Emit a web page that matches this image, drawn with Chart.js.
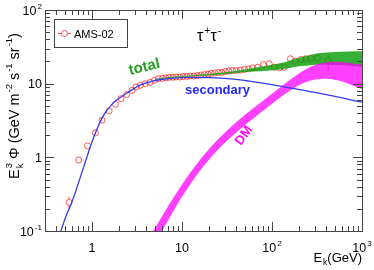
<!DOCTYPE html>
<html>
<head>
<meta charset="utf-8">
<script src="https://cdn.jsdelivr.net/npm/chart.js@4.4.1/dist/chart.umd.min.js"></script>
<style>
  html, body { margin: 0; padding: 0; background: #fff; }
  #chart { display: block; }
</style>
</head>
<body>
<canvas id="chart" width="374" height="270"></canvas>
<script>
// AMS-02 data points (E in GeV, E^3 flux)
const amsE = [0.555, 0.71, 0.89, 1.09, 1.29, 1.55, 1.82, 2.10, 2.42, 2.78, 3.08, 3.44, 3.91, 4.41, 4.93, 5.45,
  6.04, 6.6, 7.2, 7.9, 8.6, 9.45, 10.3, 11.3, 12.3, 13.5, 14.8, 16.2, 17.7, 19.4, 21.1, 23.1, 25.3, 27.7,
  30.3, 33.1, 36.2, 40.0, 44.5, 49.4, 54.8, 60.8, 69, 80, 93, 106, 121, 137, 160, 181, 210, 238, 271, 320, 420];
const amsFlux = [0.244, 0.92, 1.43, 2.15, 3.19, 4.26, 5.25, 6.27, 7.1, 8.1, 9.0, 9.5, 10.0, 10.4, 11.1, 11.7,
  11.8, 12.0, 12.2, 12.2, 12.3, 12.3, 12.5, 12.5, 12.7, 12.7, 12.9, 13.1, 13.3, 13.5, 13.8, 14.0, 14.2, 14.2,
  14.6, 14.9, 15.1, 15.1, 15.3, 15.6, 15.9, 16.4, 16.7, 18.2, 18.6, 16.7, 16.4, 16.7, 21.8, 20.2, 21.3, 21.8, 22.2, 22.4, 20.6];
const amsErr = [0.05, 0.03, 0.04, 0.05, 0.07, 0.08, 0.1, 0.1, 0.1, 0.12, 0.13, 0.13, 0.14, 0.14, 0.15, 0.15,
  0.15, 0.15, 0.15, 0.15, 0.15, 0.15, 0.15, 0.15, 0.16, 0.16, 0.17, 0.17, 0.18, 0.18, 0.2, 0.2, 0.2, 0.2,
  0.25, 0.25, 0.3, 0.3, 0.3, 0.35, 0.4, 0.45, 0.5, 0.6, 0.7, 0.8, 0.9, 1.0, 1.5, 1.5, 1.8, 2.0, 2.3, 3.0, 5.5];

// secondary background
const secE = [0.45, 0.505, 0.61, 0.786, 1.015, 1.31, 1.69, 2.38, 3.36, 4.7, 5.6, 8, 12, 20, 35, 56, 100, 140, 300, 600, 1000];
const secFlux = [0.1, 0.15, 0.265, 0.67, 1.71, 3.54, 5.36, 7.3, 9.5, 10.8, 11.3, 11.9, 12.2, 12.1, 11.6, 10.8, 9.7, 9.0, 7.6, 6.4, 5.6];

// total band
const totE = [5, 7, 10, 15, 20, 30, 50, 80, 130, 200, 270, 340, 500, 700, 1000];
const totLow = [11.2, 11.9, 12.3, 12.7, 13.0, 13.5, 14.4, 14.9, 15.7, 17.2, 17.8, 18.0, 17.9, 17.5, 17.0];
const totHigh = [11.6, 12.3, 12.7, 13.2, 13.6, 14.3, 15.6, 17.2, 19.2, 22.5, 24.5, 26.0, 27.0, 27.4, 27.6];

// DM band
const dmE = [4, 4.8, 7, 10, 15, 25, 40, 60, 100, 150, 220, 300, 400, 550, 750, 1000];
const dmLow = [0.039, 0.0605, 0.140, 0.292, 0.605, 1.27, 2.18, 3.27, 5.32, 7.72, 10.1, 11.4, 11.7, 11.0, 9.7, 8.4];
const dmHigh = [0.068, 0.1, 0.217, 0.427, 0.849, 1.74, 2.99, 4.48, 7.28, 10.7, 14.8, 17.9, 19.5, 19.8, 19.1, 18.0];

// axis ticks
const xMajor = [1, 10, 100, 1000];
const xLabels = [['1'], ['10'], ['10', '2'], ['10', '3']];
const yMajor = [0.1, 1, 10, 100];
const yLabels = [['10', '-1'], ['1'], ['10'], ['10', '2']];

const FONT = '"Liberation Sans", Arial, Helvetica, sans-serif';
const AMS_COLOR = 'rgba(255,0,0,0.65)';
const pts = (xs, ys) => xs.map((x, i) => ({ x: x, y: ys[i] }));

function minorTicks(min, max) {
  const out = [];
  for (let d = Math.pow(10, Math.floor(Math.log10(min))); d < max; d *= 10) {
    for (let m = 2; m < 10; m++) {
      const v = m * d;
      if (v > min * 1.0001 && v < max * 0.9999) out.push(v);
    }
  }
  return out;
}

// draws text made of parts {t, sup, sub}; returns width
function rich(ctx, parts, x, y, size, draw) {
  let cx = x;
  const small = size * 0.65;
  parts.forEach(p => {
    ctx.font = size + 'px ' + FONT;
    if (draw) ctx.fillText(p.t, cx, y);
    cx += ctx.measureText(p.t).width;
    let w = 0;
    ctx.font = small + 'px ' + FONT;
    if (p.sup) {
      if (draw) ctx.fillText(p.sup, cx + 1, y - size * 0.45);
      w = Math.max(w, ctx.measureText(p.sup).width + 1);
    }
    if (p.sub) {
      if (draw) ctx.fillText(p.sub, cx + 1, y + size * 0.25);
      w = Math.max(w, ctx.measureText(p.sub).width + 1);
    }
    cx += w;
  });
  return cx - x;
}

const framePlugin = {
  id: 'frame',
  afterDatasetDraw(chart, args) {
    if (args.index !== 0) return;
    // error bars for AMS points
    const ctx = chart.ctx, xs = chart.scales.x, ys = chart.scales.y, a = chart.chartArea;
    ctx.save();
    ctx.beginPath();
    ctx.rect(a.left, a.top, a.right - a.left, a.bottom - a.top);
    ctx.clip();
    ctx.strokeStyle = AMS_COLOR;
    ctx.lineWidth = 1;
    amsE.forEach((e, i) => {
      const px = xs.getPixelForValue(e);
      const py = ys.getPixelForValue(amsFlux[i]);
      const hi = ys.getPixelForValue(amsFlux[i] + amsErr[i]);
      const lo = ys.getPixelForValue(amsFlux[i] - amsErr[i]);
      ctx.beginPath();
      if (hi < py - 3) { ctx.moveTo(px, hi); ctx.lineTo(px, py - 3); }
      if (lo > py + 3) { ctx.moveTo(px, py + 3); ctx.lineTo(px, lo); }
      ctx.stroke();
    });
    ctx.restore();
  },
  afterDraw(chart) {
    const ctx = chart.ctx, xs = chart.scales.x, ys = chart.scales.y, a = chart.chartArea;
    ctx.save();
    ctx.strokeStyle = '#444';
    ctx.lineWidth = 1;
    ctx.strokeRect(Math.round(a.left) + 0.5, Math.round(a.top) + 0.5,
      Math.round(a.right - a.left), Math.round(a.bottom - a.top));

    ctx.beginPath();
    const xTick = (v, len) => {
      const px = Math.round(xs.getPixelForValue(v)) + 0.5;
      ctx.moveTo(px, a.bottom); ctx.lineTo(px, a.bottom - len);
      ctx.moveTo(px, a.top); ctx.lineTo(px, a.top + len);
    };
    const yTick = (v, len) => {
      const py = Math.round(ys.getPixelForValue(v)) + 0.5;
      ctx.moveTo(a.left, py); ctx.lineTo(a.left + len, py);
      ctx.moveTo(a.right, py); ctx.lineTo(a.right - len, py);
    };
    xMajor.forEach(v => xTick(v, 9));
    minorTicks(0.3, 1000).forEach(v => xTick(v, 5));
    yMajor.forEach(v => yTick(v, 9));
    minorTicks(0.1, 100).forEach(v => yTick(v, 5));
    ctx.stroke();

    // tick labels
    ctx.fillStyle = '#000';
    ctx.textBaseline = 'alphabetic';
    ctx.textAlign = 'left';
    const size = 12.5;
    xMajor.forEach((v, i) => {
      const parts = [{ t: xLabels[i][0], sup: xLabels[i][1] }];
      const w = rich(ctx, parts, 0, 0, size, false);
      const px = xs.getPixelForValue(v);
      rich(ctx, parts, px - w / 2, a.bottom + 21, size, true);
    });
    yMajor.forEach((v, i) => {
      const parts = [{ t: yLabels[i][0], sup: yLabels[i][1] }];
      const w = rich(ctx, parts, 0, 0, size, false);
      const py = ys.getPixelForValue(v);
      rich(ctx, parts, a.left - 3 - w, py + 4.5, size, true);
    });

    // x title
    const xt = [{ t: 'E', sub: 'k' }, { t: '(GeV)' }];
    const xw = rich(ctx, xt, 0, 0, 13, false);
    rich(ctx, xt, a.right - xw, 262, 13, true);

    // y title
    const yt = [{ t: 'E', sup: '3', sub: 'k' }, { t: ' \u03A6 (GeV m', sup: '-2' }, { t: ' s', sup: '-1' }, { t: ' sr', sup: '-1' }, { t: ')' }];
    const yw = rich(ctx, yt, 0, 0, 14.5, false);
    ctx.save();
    ctx.translate(19, 106);
    ctx.rotate(-Math.PI / 2);
    rich(ctx, yt, -yw / 2, 0, 14.5, true);
    ctx.restore();

    // legend
    ctx.fillStyle = '#fff';
    ctx.fillRect(54.5, 19.5, 73, 28);
    ctx.strokeStyle = '#444';
    ctx.strokeRect(54.5, 19.5, 73, 28);
    ctx.strokeStyle = AMS_COLOR;
    ctx.beginPath();
    ctx.moveTo(58, 33.5); ctx.lineTo(61.5, 33.5);
    ctx.moveTo(67.5, 33.5); ctx.lineTo(71, 33.5);
    ctx.stroke();
    ctx.beginPath();
    ctx.arc(64.5, 33.5, 3, 0, Math.PI * 2);
    ctx.stroke();
    ctx.fillStyle = '#000';
    ctx.font = '11px ' + FONT;
    ctx.fillText('AMS-02', 74, 37.5);

    // tau tau
    rich(ctx, [{ t: '\u03C4', sup: '+' }, { t: '\u03C4', sup: '-' }], 197, 41, 16, true);

    // curve labels
    ctx.font = 'bold 15px ' + FONT;
    ctx.fillStyle = 'rgb(40,160,40)';
    ctx.save();
    ctx.translate(130, 75);
    ctx.rotate(-0.24);
    ctx.fillText('total', 0, 0);
    ctx.restore();

    ctx.font = 'bold 13px ' + FONT;
    ctx.fillStyle = 'rgb(40,40,255)';
    ctx.fillText('secondary', 185, 94);

    ctx.fillStyle = 'rgb(255,0,255)';
    ctx.save();
    ctx.translate(241, 146);
    ctx.rotate(-0.95);
    ctx.fillText('DM', 0, 0);
    ctx.restore();

    ctx.restore();
  }
};

const band = (xs, ys, fill, color, order) => ({
  data: pts(xs, ys),
  showLine: true,
  borderWidth: 0,
  borderColor: 'rgba(0,0,0,0)',
  pointRadius: 0,
  cubicInterpolationMode: 'monotone',
  fill: fill,
  backgroundColor: color,
  order: order
});

new Chart(document.getElementById('chart'), {
  type: 'scatter',
  data: {
    datasets: [
      {
        label: 'AMS-02',
        data: pts(amsE, amsFlux),
        showLine: false,
        pointStyle: 'circle',
        pointRadius: 3,
        pointBorderWidth: 1,
        pointBorderColor: AMS_COLOR,
        pointBackgroundColor: 'rgba(0,0,0,0)',
        order: 4
      },
      {
        label: 'secondary',
        data: pts(secE, secFlux),
        showLine: true,
        borderColor: 'rgb(50,60,240)',
        borderWidth: 1.3,
        pointRadius: 0,
        cubicInterpolationMode: 'monotone',
        fill: false,
        order: 1
      },
      band(dmE, dmLow, false, 'rgba(0,0,0,0)', 2),
      band(dmE, dmHigh, '-1', 'rgba(255,0,255,0.75)', 2),
      band(totE, totLow, false, 'rgba(0,0,0,0)', 3),
      band(totE, totHigh, '-1', 'rgba(10,160,10,0.82)', 3)
    ]
  },
  options: {
    responsive: false,
    animation: false,
    layout: { padding: { left: 45, top: 10, right: 12, bottom: 39 } },
    plugins: { legend: { display: false }, tooltip: { enabled: false } },
    scales: {
      x: { type: 'logarithmic', min: 0.3, max: 1000, display: false },
      y: { type: 'logarithmic', min: 0.1, max: 100, display: false }
    }
  },
  plugins: [framePlugin]
});
</script>
</body>
</html>
